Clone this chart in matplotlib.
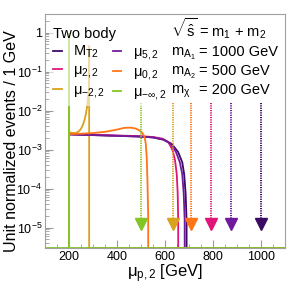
import numpy as np
import matplotlib
matplotlib.use("Agg")
import matplotlib.pyplot as plt
from matplotlib.lines import Line2D
from matplotlib.ticker import MultipleLocator, LogLocator, NullFormatter

plt.rcParams['font.family'] = ['Liberation Sans', 'DejaVu Sans']
plt.rcParams['mathtext.fontset'] = 'custom'
plt.rcParams['mathtext.rm'] = 'Liberation Sans'
plt.rcParams['mathtext.it'] = 'Liberation Sans'
plt.rcParams['mathtext.bf'] = 'Liberation Sans:bold'

# ---------------- data ----------------
labels = [r'$\mathregular{M_{T2}}$', r'$\mu_{2,2}$', r'$\mu_{-2,2}$',
          r'$\mu_{5,2}$', r'$\mu_{0,2}$', r'$\mu_{-\infty,2}$']
colors = ['#3b0a63', '#e0157a', '#d9a21e', '#6e1a9a', '#ff7414', '#84c524']

mt2_x = [200, 200, 250, 300, 350, 400, 450, 500, 550, 593, 628, 655, 672, 680, 686, 690, 690, 1100]
mt2_y = [0, 2.45e-3, 2.4e-3, 2.35e-3, 2.3e-3, 2.25e-3, 2.2e-3, 2.15e-3, 2.05e-3, 1.8e-3, 1.4e-3,
         8.6e-4, 4.7e-4, 2.3e-4, 7.3e-5, 1.5e-5, 0, 0]

mu22_x = [200, 200, 250, 300, 350, 400, 450, 500, 550, 590, 614, 632, 642, 649, 653, 655, 655, 1100]
mu22_y = [0, 2.5e-3, 2.45e-3, 2.4e-3, 2.35e-3, 2.3e-3, 2.25e-3, 2.2e-3, 2.1e-3, 1.9e-3, 1.55e-3,
          9.5e-4, 5.2e-4, 2.3e-4, 7.3e-5, 1.5e-5, 0, 0]

mum22_x = [200, 200, 210, 220, 230, 240, 250, 258, 265, 270, 275, 278, 280, 282, 283, 283, 284, 284, 1100]
mum22_y = [0, 2.8e-3, 2.7e-3, 2.65e-3, 2.7e-3, 2.9e-3, 3.4e-3, 4.3e-3, 5.8e-3, 8e-3, 1.2e-2,
           1.8e-2, 2.4e-2, 3.2e-2, 3.2e-2, 0.44, 0.44, 0, 0]

mu52_x = [200, 200, 250, 300, 350, 400, 450, 500, 550, 593, 625, 646, 662, 672, 678, 682, 682, 1100]
mu52_y = [0, 2.45e-3, 2.4e-3, 2.35e-3, 2.3e-3, 2.25e-3, 2.2e-3, 2.15e-3, 2.05e-3, 1.8e-3, 1.4e-3,
          8.6e-4, 4.7e-4, 2.3e-4, 7.3e-5, 1.5e-5, 0, 0]

mu02_x = [200, 200, 250, 300, 350, 400, 430, 455, 475, 490, 505, 515, 520, 524, 527, 530, 530, 1100]
mu02_y = [0, 2.5e-3, 2.55e-3, 2.65e-3, 2.85e-3, 3.25e-3, 3.6e-3, 3.65e-3, 3.5e-3, 3.2e-3, 2.7e-3,
          2.1e-3, 1.4e-3, 6e-4, 1.5e-4, 2e-5, 0, 0]

muinf_x = [100, 200, 200, 201, 201, 1100]
muinf_y = [0, 0, 1.0, 1.0, 0, 0]

series_x = [mt2_x, mu22_x, mum22_x, mu52_x, mu02_x, muinf_x]
series_y = [mt2_y, mu22_y, mum22_y, mu52_y, mu02_y, muinf_y]

# theoretical endpoints (arrows), in series order
endpoints = [1000, 790, 632, 875, 707, 500]

xticks = [200, 400, 600, 800, 1000]
yticks = [1, 1e-1, 1e-2, 1e-3, 1e-4, 1e-5]
yticklabels = ['1', r'$10^{-1}$', r'$10^{-2}$', r'$10^{-3}$', r'$10^{-4}$', r'$10^{-5}$']

info_left = [r'$\sqrt{\hat{s}}$', r'$m_{A_1}$', r'$m_{A_2}$', r'$m_{\chi}$']
info_right = [r'= m$_1$ + m$_2$', '= 1000 GeV', '= 500 GeV', '= 200 GeV']

# ---------------- figure ----------------
fig = plt.figure(figsize=(3.0, 2.85), dpi=100)
ax = fig.add_axes([0.15, 0.13, 0.80, 0.821])
YMIN, YMAX = 3e-6, 3.0
ax.set_xlim(100, 1100)
ax.set_ylim(YMIN, YMAX)
ax.set_yscale('log')

LW = 1.3
handles = []
for xs, ys, c, lab in zip(series_x, series_y, colors, labels):
    y = np.maximum(np.array(ys, dtype=float), YMIN)
    ax.plot(xs, y, color=c, lw=LW, solid_joinstyle='miter')
    handles.append(Line2D([], [], color=c, lw=LW, label=lab))

ARROW_TOP, ARROW_HEAD = 1.55e-2, 1.25e-5
for xe, c in zip(endpoints, colors):
    ax.plot([xe, xe], [ARROW_TOP, ARROW_HEAD], color=c, lw=1.4, ls=(0, (0.6, 0.6)))
    ax.plot([xe], [ARROW_HEAD], marker='v', ms=8, color=c, mec=c)

leg = ax.legend(handles=handles, ncol=2, loc='upper left', bbox_to_anchor=(0.015, 0.965),
                title='Two body',
                fontsize=10.5, title_fontsize=10.5, alignment='left',
                handlelength=0.6, handletextpad=0.8, columnspacing=0.5,
                labelspacing=0.22, borderpad=0.3, borderaxespad=0.0,
                frameon=True, fancybox=False, framealpha=0.6,
                edgecolor='none', facecolor='white')

info_y = [0.902, 0.821, 0.739, 0.658]
for yy, l, r in zip(info_y, info_left, info_right):
    ax.text(0.525, yy, l, transform=ax.transAxes, fontsize=10.5, va='baseline', ha='left')
    ax.text(0.642, yy, r, transform=ax.transAxes, fontsize=10.5, va='baseline', ha='left')

ax.set_xticks(xticks)
ax.xaxis.set_minor_locator(MultipleLocator(50))
ax.set_yticks(yticks)
ax.set_yticklabels(yticklabels)
ax.yaxis.set_minor_locator(LogLocator(base=10, subs=np.arange(2, 10)))
ax.yaxis.set_minor_formatter(NullFormatter())
ax.tick_params(axis='both', which='both', direction='in', color='#9a9a9a', labelsize=9)
ax.tick_params(axis='both', which='major', length=6, width=0.8)
ax.tick_params(axis='both', which='minor', length=3, width=0.6)
ax.tick_params(axis='x', pad=2)
ax.tick_params(axis='y', pad=2)
for s in ax.spines.values():
    s.set_color('#a0a0a0')
    s.set_linewidth(0.8)

ax.set_xlabel(r'$\mu_{p,2}$ [GeV]', fontsize=12, labelpad=0)
ax.set_ylabel('Unit normalized events / 1 GeV', fontsize=11.5, loc='top')
ax.yaxis.set_label_coords(-0.11, 0.93)

fig.savefig('out.png', dpi=100)
